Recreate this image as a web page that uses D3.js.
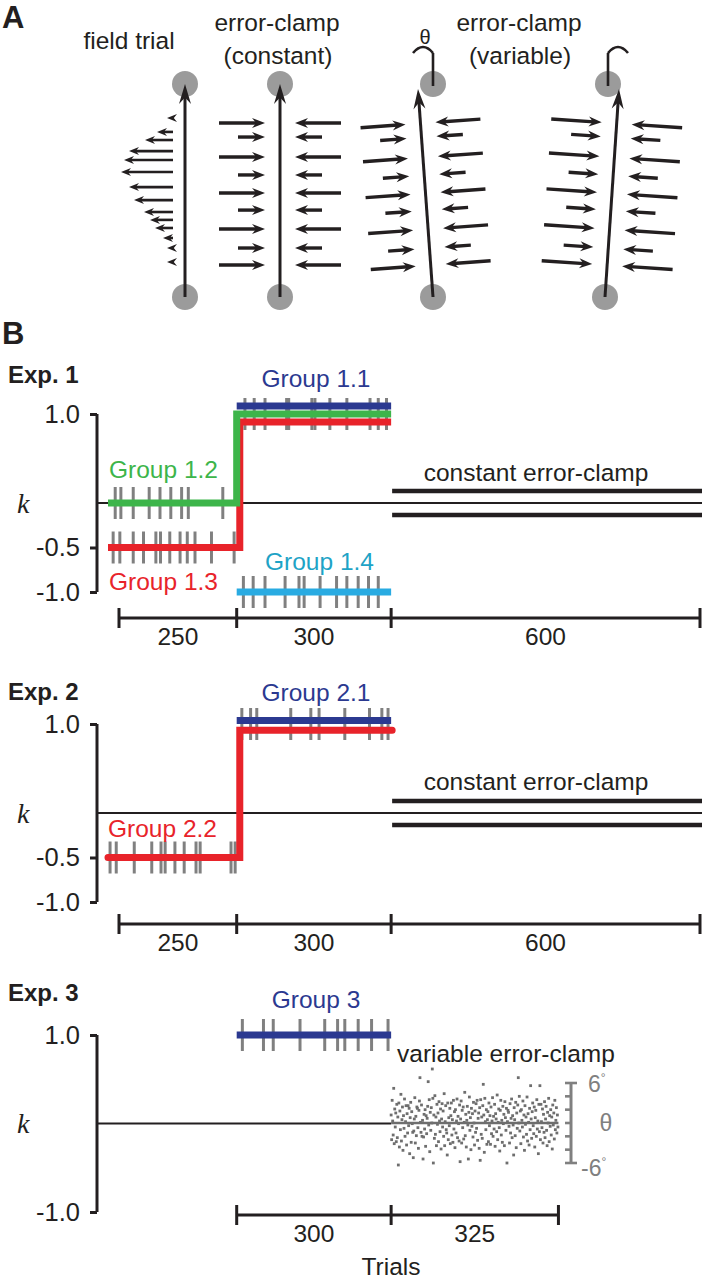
<!DOCTYPE html>
<html><head><meta charset="utf-8">
<script src="https://cdn.jsdelivr.net/npm/d3@7"></script>
<style>
body{margin:0;background:#fff}
svg{display:block}
text{font-family:"Liberation Sans",Arial,Helvetica,sans-serif}
</style>
</head><body>
<svg id="fig" width="702" height="1280" fill="#231f20"></svg>
<script>
// ================= DATA =================
// Panel A (schematic): positions along the reach (0 = start, 1 = target) and arrow magnitudes
const fieldFrac  = [0.840,0.775,0.737,0.685,0.643,0.587,0.516,0.455,0.399,0.362,0.324,0.277,0.230,0.164];
const fieldForce = [6,16,28,44,49,52,44,39,29,23,18,10,6,6];
const clampFrac  = [0.817,0.751,0.657,0.573,0.488,0.408,0.319,0.230,0.150];
const clampLen   = [46,27,46,27,46,27,46,27,46];

// Panel B: phase lengths (trials)
const exp1Phases = [250, 300, 600];
const exp2Phases = [250, 300, 600];
const exp3Phases = [300, 325];
const exp3Start  = 250;
const kTicks12   = [1.0, -0.5, -1.0];
const kTicks3    = [1.0, -1.0];
const thetaTicks = [-6, -4, -2, 0, 2, 4, 6];
const clampK     = [0.135, -0.135];

// k schedules: [trial, k]
const group11 = [[250,1.09],[550,1.09]];
const group12 = [[0,0],[250,0],[250,1.0],[550,1.0]];
const group13 = [[0,-0.5],[256,-0.5],[256,0.91],[550,0.91]];
const group14 = [[250,-1.0],[550,-1.0]];
const group21 = [[250,1.04],[550,1.04]];
const group22 = [[0,-0.5],[256,-0.5],[256,0.93],[552,0.93]];
const group3  = [[250,1.0],[550,1.0]];

// error-clamp (catch) trials
const exp1CatchLate = [266,284,305,347,351,396,402,431,464,509,525,541];
const exp1Catch12   = [14,25,49,80,101,122,143,156,223];
const exp1Catch13   = [10,23,49,69,93,102,120,140,154,169,201,245];
const exp1Catch14   = [263,282,305,344,371,381,412,444,464,486,506,525];
const exp2CatchLate = [260,277,289,355,394,410,460,508,532,544];
const exp2Catch22   = [4,16,51,85,103,111,130,148,171,179,239,247];
const exp3Catch     = [261,302,321,373,421,446,460,486,512,544];

// variable error-clamp angle (deg), trials 550..874
const thetaVals = [
 1.2,-2.5,3.4,0.3,-1.8,5.2,-3.1,2.1,-0.6,1.5,-2.8,2.8,-2.2,0.9,-6.3,3.0,-3.6,1.8,-1.0,4.3,-2.7,0.5,2.4,-4.1,1.1,
 -0.8,3.6,-2.0,0.2,2.6,-3.3,1.4,-1.5,2.6,-0.4,2.2,-4.6,0.8,3.1,-2.9,1.7,-0.1,-1.4,-5.2,-1.2,0.6,3.8,-3.0,1.0,-1.9,
 2.4,2.2,-0.7,-3.8,1.9,3.3,6.8,0.1,-1.4,2.7,-2.0,0.4,-5.4,-2.1,1.3,-0.9,2.0,-3.5,1.1,-1.6,0.7,2.5,6.2,-0.3,3.5,
 -4.3,1.6,-1.1,2.3,0.0,8.1,3.7,-6.0,1.2,-2.3,4.1,-1.7,0.9,-3.4,2.8,-0.2,1.5,-2.8,3.2,0.3,-1.3,2.1,-3.9,0.6,2.9,
 -0.6,1.8,-2.0,4.4,-3.4,0.2,2.6,-1.0,-1.5,-4.8,3.0,-2.5,0.8,-0.4,2.2,-3.1,1.1,3.0,-1.8,0.5,-2.9,3.4,-0.9,1.7,-3.7,
 2.0,-1.5,0.3,3.6,-2.2,1.0,-0.1,-2.7,2.7,-5.8,0.6,3.3,-3.0,1.9,-0.7,2.4,-2.4,0.1,4.6,-1.9,1.3,-3.6,0.4,2.5,-0.3,
 -5.4,1.6,3.9,-1.1,0.8,-4.0,2.2,-0.5,1.4,-2.1,3.1,0.0,-3.3,1.8,-1.4,2.9,-0.8,3.4,-2.6,0.7,1.5,-3.8,2.3,-5.6,3.5,
 -1.7,0.9,-2.3,2.6,5.8,1.2,-4.4,3.7,0.2,-1.0,2.0,-3.2,0.5,1.7,-2.8,3.0,-0.4,1.1,-3.2,2.4,-1.6,0.3,3.8,-2.0,1.0,
 -0.9,2.8,-3.5,1.4,0.6,-1.3,4.2,-2.5,0.1,2.1,-0.7,-4.2,1.9,3.4,-1.8,0.4,-2.9,2.5,-0.1,1.3,-3.4,3.2,0.8,-1.1,2.2,
 -6.0,0.2,1.9,1.6,-0.5,-3.0,2.9,-1.5,0.7,3.6,-2.2,1.1,-0.3,-4.8,2.3,0.5,-1.9,3.1,-3.7,1.5,-0.8,2.7,6.8,0.0,4.0,
 -1.2,1.8,-3.1,2.0,0.4,-0.6,3.3,-2.1,1.2,-4.1,2.6,-0.2,0.9,-1.7,3.9,-2.7,1.4,0.1,-3.3,2.2,-1.0,5.6,0.6,-2.3,1.7,
 3.0,-0.4,-1.6,2.4,-3.6,0.8,1.9,-2.0,3.5,-0.9,0.3,-4.6,2.8,-1.3,5.6,-2.5,2.8,0.2,-0.7,2.1,-3.0,1.3,-1.4,3.2,-2.2,
 0.6,2.5,-1.1,-3.4,1.6,0.0,3.7,-2.8,1.1,-0.5,2.0,-1.8,0.9,-3.9,2.7,-0.3,1.5,-2.4,3.4,-1.0,0.4,2.3,-1.5,1.2,-0.6
];

// ================= STYLE =================
const C = {
  ink:"#231f20", gray:"#808080", disc:"#9b9b9b",
  navy:"#2b3990", green:"#3db54a", red:"#e8232a", cyan:"#29abe2", cyanText:"#1ea3c6"
};
const FS = 24.5;

const svg = d3.select("#fig");

// ================= PANEL A =================
const A = svg.append("g");
A.append("text").attr("x",2).attr("y",28).attr("font-size",31).attr("font-weight","bold").text("A");
A.append("text").attr("x",129).attr("y",49).attr("font-size",FS).attr("text-anchor","middle").text("field trial");
A.append("text").attr("x",277).attr("y",31).attr("font-size",FS).attr("text-anchor","middle").text("error-clamp");
A.append("text").attr("x",278).attr("y",64).attr("font-size",FS).attr("text-anchor","middle").text("(constant)");
A.append("text").attr("x",519).attr("y",31).attr("font-size",FS).attr("text-anchor","middle").text("error-clamp");
A.append("text").attr("x",520).attr("y",64).attr("font-size",FS).attr("text-anchor","middle").text("(variable)");
A.append("text").attr("x",425).attr("y",44).attr("font-size",20).attr("text-anchor","middle").text("θ");

function arrow(g, x1, y1, x2, y2, o){
  const dx=x2-x1, dy=y2-y1, L=Math.hypot(dx,dy), ux=dx/L, uy=dy/L;
  const ang = Math.atan2(dy,dx)*180/Math.PI;
  if (L > o.hl*0.8){
    g.append("line").attr("x1",x1).attr("y1",y1)
      .attr("x2",x2-ux*o.hl*0.6).attr("y2",y2-uy*o.hl*0.6)
      .attr("stroke",C.ink).attr("stroke-width",o.w);
  }
  g.append("path").attr("d",`M0,0 L${-o.hl},${-o.hw/2} L${-o.hl*0.68},0 L${-o.hl},${o.hw/2} Z`)
    .attr("fill",C.ink).attr("transform",`translate(${x2},${y2}) rotate(${ang})`);
}

const diagrams = [
  {kind:"field", bx:185, tx:185, ty:84, cTop:185},
  {kind:"clamp", bx:280, tx:280, ty:84, cTop:280, s:1.0},
  {kind:"clamp", bx:433, tx:418, ty:89, cTop:433, s:0.98, theta:true},
  {kind:"clamp", bx:605, tx:619, ty:89, cTop:608, s:1.1, theta:true}
];
const yBot = 297, yTopC = 84, rDisc = 13;

diagrams.forEach(d=>{
  const g = A.append("g");
  g.append("circle").attr("cx",d.cTop).attr("cy",yTopC).attr("r",rDisc).attr("fill",C.disc);
  g.append("circle").attr("cx",d.bx).attr("cy",yBot).attr("r",rDisc).attr("fill",C.disc);
  arrow(g, d.bx, yBot, d.tx, d.ty, {w:3, hl:20, hw:12});
  const dx = d.tx-d.bx, dy = d.ty-yBot, L = Math.hypot(dx,dy);
  const ux = dx/L, uy = dy/L;
  const nx = uy, ny = -ux;  // left normal
  const span = yBot - yTopC;
  const pos = f => [d.bx + ux*f*span, yBot + uy*f*span];
  if (d.kind==="field"){
    const gap = 12;
    fieldFrac.forEach((f,i)=>{
      const [px,py] = pos(f);
      const len = fieldForce[i];
      arrow(g, px+nx*gap, py+ny*gap, px+nx*(gap+len), py+ny*(gap+len), {w:2.6, hl:10, hw:8});
    });
  } else {
    const gap = 15;
    clampFrac.forEach((f,i)=>{
      const [px,py] = pos(f);
      const len = clampLen[i]*d.s;
      arrow(g, px+nx*(gap+len), py+ny*(gap+len), px+nx*gap, py+ny*gap, {w:3.4, hl:13, hw:10});
      arrow(g, px-nx*(gap+len), py-ny*(gap+len), px-nx*gap, py-ny*gap, {w:3.4, hl:13, hw:10});
    });
    if (d.theta){
      g.append("line").attr("x1",d.cTop).attr("y1",53).attr("x2",d.cTop).attr("y2",86)
        .attr("stroke",C.ink).attr("stroke-width",2.6);
      const a0 = d.tx < d.bx ? d.cTop-20 : d.cTop;
      g.append("path").attr("d",`M${a0},53 Q${a0+10},41 ${a0+20},53`)
        .attr("fill","none").attr("stroke",C.ink).attr("stroke-width",2.6);
    }
  }
});

// ================= PANEL B =================
svg.append("text").attr("x",2).attr("y",344).attr("font-size",31).attr("font-weight","bold").text("B");

const x = d3.scaleLinear().domain([0,1150]).range([108,700]);
const axisX = 97;

function drawExp(cfg){
  const g = svg.append("g");
  const y = d3.scaleLinear().domain([-1,1]).range([cfg.bottom, cfg.top]);
  g.append("text").attr("x",8).attr("y",cfg.titleY).attr("font-size",24).attr("font-weight","bold").text(cfg.title);
  g.append("text").attr("x",17).attr("y",y(0)).attr("dy","0.35em").attr("font-size",28)
    .attr("font-style","italic").style("font-family","'Liberation Serif','DejaVu Serif',serif").text("k");
  const ax = g.append("g").attr("transform",`translate(${axisX},0)`)
    .call(d3.axisLeft(y).tickValues(cfg.kTicks).tickFormat(d=>d.toFixed(1)).tickSize(7).tickSizeOuter(0).tickPadding(10));
  ax.select(".domain").attr("stroke",C.ink).attr("stroke-width",3)
    .attr("d",`M0,${y(1)}V${y(-1)}`);
  ax.selectAll(".tick line").attr("stroke",C.ink).attr("stroke-width",3);
  ax.selectAll(".tick text").attr("font-size",25.5).style("font-family","'Liberation Sans',Arial,sans-serif").attr("fill",C.ink);
  g.append("line").attr("x1",axisX).attr("x2",cfg.zeroEnd).attr("y1",y(0)).attr("y2",y(0))
    .attr("stroke",C.ink).attr("stroke-width",2.2);
  if (cfg.constant){
    g.selectAll(".cl").data(clampK).enter().append("line")
      .attr("x1",x(550)+1).attr("x2",702).attr("y1",d=>y(d)).attr("y2",d=>y(d))
      .attr("stroke",C.ink).attr("stroke-width",4.5);
    g.append("text").attr("x",536).attr("y",cfg.clampTextY).attr("font-size",FS)
      .attr("text-anchor","middle").text("constant error-clamp");
  }
  cfg.catches.forEach(c=>{
    g.selectAll(null).data(c.trials).enter().append("line")
      .attr("x1",d=>x(d)).attr("x2",d=>x(d))
      .attr("y1",y(c.k)-16).attr("y2",y(c.k)+16)
      .attr("stroke",C.gray).attr("stroke-width",3);
  });
  const line = d3.line().x(d=>x(d[0])).y(d=>y(d[1]));
  cfg.series.forEach(s=>{
    g.append("path").attr("d",line(s.data)).attr("fill","none").attr("stroke",s.color)
      .attr("stroke-width",7).attr("stroke-linejoin","miter").attr("stroke-linecap",s.cap||"butt");
  });
  cfg.labels.forEach(l=>{
    g.append("text").attr("x",l.x).attr("y",l.y).attr("font-size",FS).attr("fill",l.color)
      .attr("text-anchor",l.anchor||"start").text(l.text);
  });
  let b = cfg.start; const bounds=[b];
  cfg.phases.forEach(p=>{ b+=p; bounds.push(b); });
  const bx = t => x(t) + (t===0 ? 11 : 0);
  g.append("line").attr("x1",bx(bounds[0])).attr("x2",bx(bounds[bounds.length-1]))
    .attr("y1",cfg.bracketY).attr("y2",cfg.bracketY).attr("stroke",C.ink).attr("stroke-width",3);
  g.selectAll(null).data(bounds).enter().append("line")
    .attr("x1",d=>bx(d)).attr("x2",d=>bx(d)).attr("y1",cfg.bracketY-10).attr("y2",cfg.bracketY+10)
    .attr("stroke",C.ink).attr("stroke-width",3);
  g.selectAll(null).data(cfg.phases).enter().append("text")
    .attr("x",(d,i)=>(bx(bounds[i])+bx(bounds[i+1]))/2).attr("y",cfg.bracketY+27)
    .attr("font-size",FS).attr("text-anchor","middle").text(d=>d);
  return {g,y};
}

drawExp({
  title:"Exp. 1", titleY:383, top:414, bottom:592, kTicks:kTicks12, zeroEnd:702,
  constant:true, clampTextY:481, start:0, phases:exp1Phases, bracketY:618,
  catches:[{trials:exp1CatchLate,k:1.0},{trials:exp1Catch12,k:0},{trials:exp1Catch13,k:-0.5},{trials:exp1Catch14,k:-1.0}],
  series:[{data:group11,color:C.navy},{data:group14,color:C.cyan},{data:group13,color:C.red},{data:group12,color:C.green}],
  labels:[
    {text:"Group 1.1",x:316,y:387,color:C.navy,anchor:"middle"},
    {text:"Group 1.2",x:109,y:478,color:C.green},
    {text:"Group 1.3",x:109,y:590,color:C.red},
    {text:"Group 1.4",x:265,y:570,color:C.cyanText}
  ]
});

drawExp({
  title:"Exp. 2", titleY:700, top:724, bottom:902, kTicks:kTicks12, zeroEnd:702,
  constant:true, clampTextY:790, start:0, phases:exp2Phases, bracketY:924,
  catches:[{trials:exp2CatchLate,k:1.0},{trials:exp2Catch22,k:-0.5}],
  series:[{data:group21,color:C.navy},{data:group22,color:C.red,cap:"round"}],
  labels:[
    {text:"Group 2.1",x:316,y:701,color:C.navy,anchor:"middle"},
    {text:"Group 2.2",x:108,y:837,color:C.red}
  ]
});

const e3 = drawExp({
  title:"Exp. 3", titleY:1001, top:1035, bottom:1212, kTicks:kTicks3, zeroEnd:x(550),
  constant:false, start:exp3Start, phases:exp3Phases, bracketY:1215,
  catches:[{trials:exp3Catch,k:1.0}],
  series:[{data:group3,color:C.navy}],
  labels:[{text:"Group 3",x:316,y:1008,color:C.navy,anchor:"middle"}]
});

// variable clamp in Exp 3
const th = d3.scaleLinear().domain([-6,6]).range([1163,1083]);
const g3 = e3.g;
g3.append("line").attr("x1",x(550)).attr("x2",x(875)).attr("y1",th(0)).attr("y2",th(0))
  .attr("stroke","#6e6e6e").attr("stroke-width",2.4);
g3.selectAll(".pt").data(thetaVals).enter().append("rect")
  .attr("x",(d,i)=>x(550+i)-1.4).attr("y",d=>th(d)-1.4).attr("width",2.8).attr("height",2.8)
  .attr("fill","#6e6e6e");
g3.append("text").attr("x",397).attr("y",1062).attr("font-size",FS).text("variable error-clamp");
const thX = 571;
g3.append("line").attr("x1",thX).attr("x2",thX).attr("y1",th(6)).attr("y2",th(-6))
  .attr("stroke",C.gray).attr("stroke-width",3);
g3.selectAll(".tt").data(thetaTicks).enter().append("line")
  .attr("x1",thX-6).attr("x2",d=>Math.abs(d)===6 ? thX+6 : thX)
  .attr("y1",d=>th(d)).attr("y2",d=>th(d)).attr("stroke",C.gray).attr("stroke-width",2.6);
const t6 = g3.append("text").attr("x",588).attr("y",th(6)+9).attr("font-size",23).attr("fill",C.gray);
t6.append("tspan").text("6"); t6.append("tspan").attr("font-size",12).attr("dy",-10).text("°");
const tm6 = g3.append("text").attr("x",581).attr("y",th(-6)+13).attr("font-size",23).attr("fill",C.gray);
tm6.append("tspan").text("-6"); tm6.append("tspan").attr("font-size",12).attr("dy",-10).text("°");
g3.append("text").attr("x",606).attr("y",th(0)).attr("dy","0.35em").attr("font-size",23)
  .attr("text-anchor","middle").attr("fill",C.gray).text("θ");

svg.append("text").attr("x",391).attr("y",1275).attr("font-size",FS).attr("text-anchor","middle").text("Trials");
</script>
</body></html>
